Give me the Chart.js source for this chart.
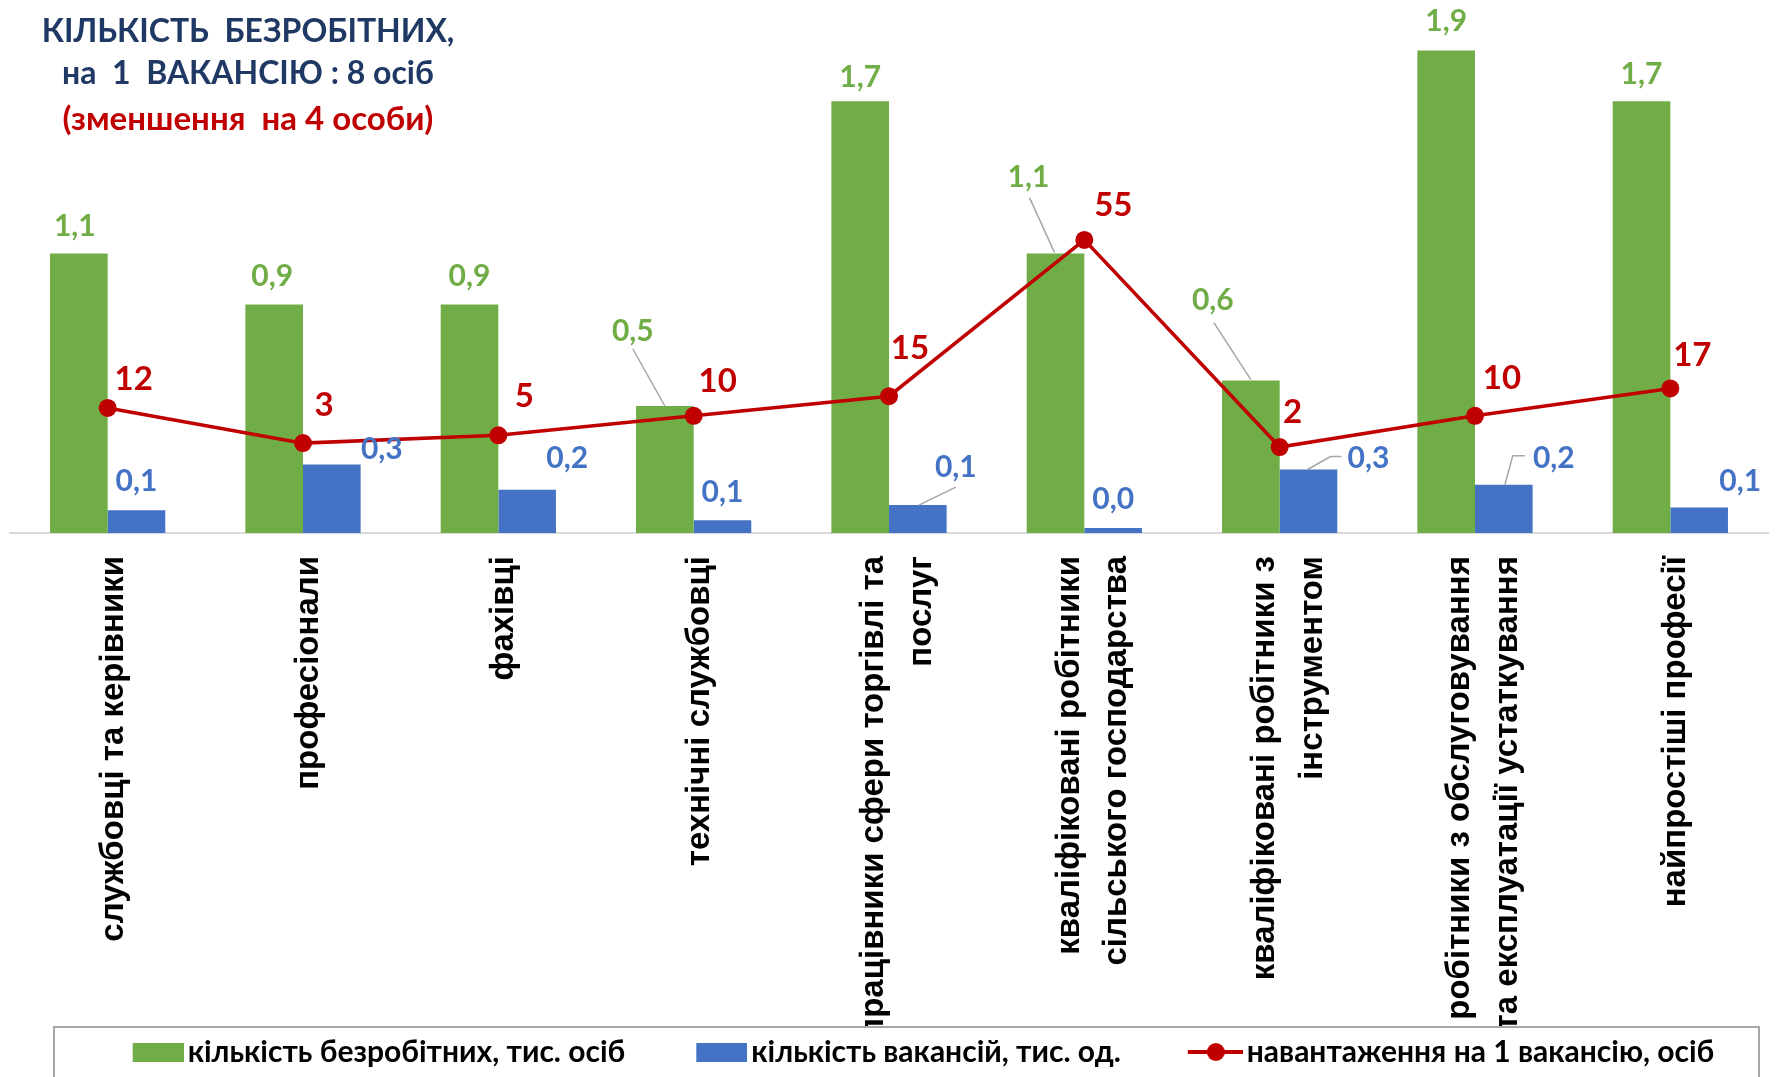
<!DOCTYPE html>
<html>
<head>
<meta charset="utf-8">
<script src="https://cdn.jsdelivr.net/npm/chart.js@4.4.0/dist/chart.umd.min.js"></script>
<style>
  html, body { margin: 0; padding: 0; background: #fff; }
  #wrap { width: 1777px; height: 1077px; position: relative; }
</style>
</head>
<body>
<div id="wrap"><canvas id="myChart"></canvas></div>
<script>
var categories = [
  'службовці та керівники',
  'професіонали',
  'фахівці',
  'технічні службовці',
  ['працівники сфери торгівлі та', 'послуг'],
  ['кваліфіковані робітники', 'сільського господарства'],
  ['кваліфіковані робітники з', 'інструментом'],
  ['робітники з обслуговування', 'та експлуатації устаткування'],
  'найпростіші професії'
];
var unemployed = [1.1, 0.9, 0.9, 0.5, 1.7, 1.1, 0.6, 1.9, 1.7];
var vacancies = [0.09, 0.27, 0.17, 0.05, 0.11, 0.02, 0.25, 0.19, 0.1];
var perVacancy = [12, 3, 5, 10, 15, 55, 2, 10, 17];
var seriesNames = [
  'кількість безробітних, тис. осіб',
  'кількість вакансій, тис. од.',
  'навантаження на 1 вакансію, осіб'
];
var titleLines = ['КІЛЬКІСТЬ  БЕЗРОБІТНИХ,', 'на  1  ВАКАНСІЮ : 8 осіб', '(зменшення  на 4 особи)'];

var GREEN = '#70AD47', BLUE = '#4472C4', RED = '#C00000', NAVY = '#1F3864';

// where each value label sits relative to its bar top / point (label centre)
var labelPlace = {
  green: { dx: [-4, -2, 0, -32, 0, -27, -38, 0, 0], dy: [-28, -29, -29, -76, -25, -77, -81, -30, -28] },
  blue: { dx: [0, 50, 40, 0, 38, 0, 60, 50, 41], dy: [-30, -16, -33, -29, -39, -30, -12, -28, -27] },
  red: { dx: [26, 21, 26, 24, 21, 29, 13, 27, 22], dy: [-30, -39, -40, -36, -49, -36, -36, -39, -34] }
};
// leader lines, as point lists relative to the bar top centre
var leaders = {
  green: { 3: [[-32, -57], [0, 0]], 5: [[-26, -56], [-1, -1]], 6: [[-37, -58], [0, -1]] },
  blue: { 4: [[38, -18], [1, 0]], 6: [[-1, 0], [22, -13], [33, -13]], 7: [[1, 0], [9, -29], [21, -29]] }
};

var LEGEND_FONT = 30;
var SWATCH_W = 100;

function fmt(v) {
  return (Math.round(v * 10) / 10).toFixed(1).replace('.', ',');
}

// legend marker: drawn wider than the box slot so it sits close to its text
function swatch(kind, color) {
  var reach = LEGEND_FONT / 2 - 4;
  var c = document.createElement('canvas');
  c.width = SWATCH_W + 2 * reach;
  c.height = 22;
  var g = c.getContext('2d');
  var right = c.width;
  if (kind === 'box') {
    g.fillStyle = color;
    g.fillRect(right - 51, 2, 51, 19);
  } else {
    g.strokeStyle = color;
    g.lineWidth = 4;
    g.beginPath();
    g.moveTo(right - 55, 11);
    g.lineTo(right, 11);
    g.stroke();
    g.fillStyle = color;
    g.beginPath();
    g.arc(right - 27, 11, 9, 0, Math.PI * 2);
    g.fill();
  }
  return c;
}

var valueLabels = {
  id: 'valueLabels',
  afterDatasetsDraw: function(chart) {
    var ctx = chart.ctx;
    var sets = [
      { idx: 1, key: 'green', color: GREEN, size: 30, text: function(i) { return fmt(unemployed[i]); } },
      { idx: 2, key: 'blue', color: BLUE, size: 30, text: function(i) { return fmt(vacancies[i]); } },
      { idx: 0, key: 'red', color: RED, size: 33, text: function(i) { return String(perVacancy[i]); } }
    ];
    ctx.save();
    sets.forEach(function(s) {
      var meta = chart.getDatasetMeta(s.idx);
      var place = labelPlace[s.key];
      meta.data.forEach(function(el, i) {
        var lead = leaders[s.key] && leaders[s.key][i];
        if (lead) {
          ctx.strokeStyle = '#A6A6A6';
          ctx.lineWidth = 1.5;
          ctx.beginPath();
          lead.forEach(function(p, k) {
            if (k === 0) ctx.moveTo(el.x + p[0], el.y + p[1]);
            else ctx.lineTo(el.x + p[0], el.y + p[1]);
          });
          ctx.stroke();
        }
        ctx.fillStyle = s.color;
        ctx.font = 'bold ' + s.size + 'px Lato';
        ctx.textAlign = 'center';
        ctx.textBaseline = 'alphabetic';
        ctx.fillText(s.text(i), el.x + place.dx[i], el.y + place.dy[i] + s.size * 0.36);
      });
    });
    ctx.restore();
  }
};

var frameAndTitle = {
  id: 'frameAndTitle',
  beforeDraw: function(chart) {
    // centre the two-line category labels on their tick
    var items = chart.scales.x.getLabelItems();
    if (!items._centred) {
      var lh = 33 * 1.45;
      items.forEach(function(it) {
        var n = Array.isArray(it.label) ? it.label.length : 1;
        if (n > 1) it.options.translation[0] -= (n - 1) * lh / 2 - 3;
      });
      items._centred = true;
    }
  },
  afterDraw: function(chart) {
    var ctx = chart.ctx;
    var lg = chart.legend;
    ctx.save();
    ctx.fillStyle = '#fff';
    ctx.fillRect(53, lg.top, 1706, chart.height - lg.top);
    ctx.strokeStyle = '#A6A6A6';
    ctx.lineWidth = 2;
    ctx.strokeRect(54, lg.top + 1, 1705, chart.height);
    ctx.restore();
    lg.draw();

    ctx.save();
    ctx.font = 'bold 32px Lato';
    ctx.textAlign = 'center';
    ctx.textBaseline = 'middle';
    ctx.fillStyle = NAVY;
    ctx.fillText(titleLines[0], 248, 32);
    ctx.fillText(titleLines[1], 248, 74);
    ctx.fillStyle = RED;
    ctx.font = 'bold 33px Lato';
    ctx.fillText(titleLines[2], 248, 119);
    ctx.restore();
  }
};

var legendSwatches = [swatch('box', GREEN), swatch('box', BLUE), swatch('line', RED)];

var ctx = document.getElementById('myChart').getContext('2d');
var myChart = new Chart(ctx, {
  type: 'bar',
  data: {
    labels: categories,
    datasets: [
      {
        type: 'line',
        label: seriesNames[2],
        data: perVacancy,
        yAxisID: 'y2',
        order: 0,
        borderColor: RED,
        borderWidth: 3.5,
        pointRadius: 9,
        pointBackgroundColor: RED,
        pointBorderWidth: 0,
        tension: 0
      },
      {
        label: seriesNames[0],
        data: unemployed,
        yAxisID: 'y',
        order: 1,
        backgroundColor: GREEN,
        categoryPercentage: 0.59,
        barPercentage: 1.0
      },
      {
        label: seriesNames[1],
        data: vacancies,
        yAxisID: 'y',
        order: 1,
        backgroundColor: BLUE,
        categoryPercentage: 0.59,
        barPercentage: 1.0
      }
    ]
  },
  options: {
    responsive: true,
    maintainAspectRatio: false,
    animation: false,
    layout: { padding: { top: 25, left: 10, right: 0, bottom: 0 } },
    scales: {
      x: {
        grid: { display: false },
        border: { display: true, color: '#D9D9D9', width: 2 },
        ticks: {
          autoSkip: false,
          minRotation: 90,
          maxRotation: 90,
          padding: 15,
          labelOffset: 6,
          color: '#000',
          font: { family: 'Liberation Sans', size: 33, weight: 'bold', lineHeight: 1.45 }
        },
        afterFit: function(scale) {
          scale.height = scale.chart.height - scale.chart.legend.height - 533;
        }
      },
      y: { display: false, min: 0, max: 2 },
      y2: { display: false, min: -20, max: 110 }
    },
    plugins: {
      tooltip: { enabled: false },
      legend: {
        position: 'bottom',
        labels: {
          usePointStyle: true,
          pointStyleWidth: SWATCH_W,
          boxHeight: 22,
          padding: 11,
          color: '#000',
          font: { family: 'Lato', size: LEGEND_FONT, weight: 'bold' },
          generateLabels: function(chart) {
            return [1, 2, 0].map(function(di, k) {
              return {
                text: seriesNames[k],
                fillStyle: 'transparent',
                strokeStyle: 'transparent',
                lineWidth: 0,
                pointStyle: legendSwatches[k],
                hidden: false,
                datasetIndex: di,
                fontColor: '#000'
              };
            });
          }
        }
      }
    }
  },
  plugins: [valueLabels, frameAndTitle]
});
</script>
</body>
</html>
